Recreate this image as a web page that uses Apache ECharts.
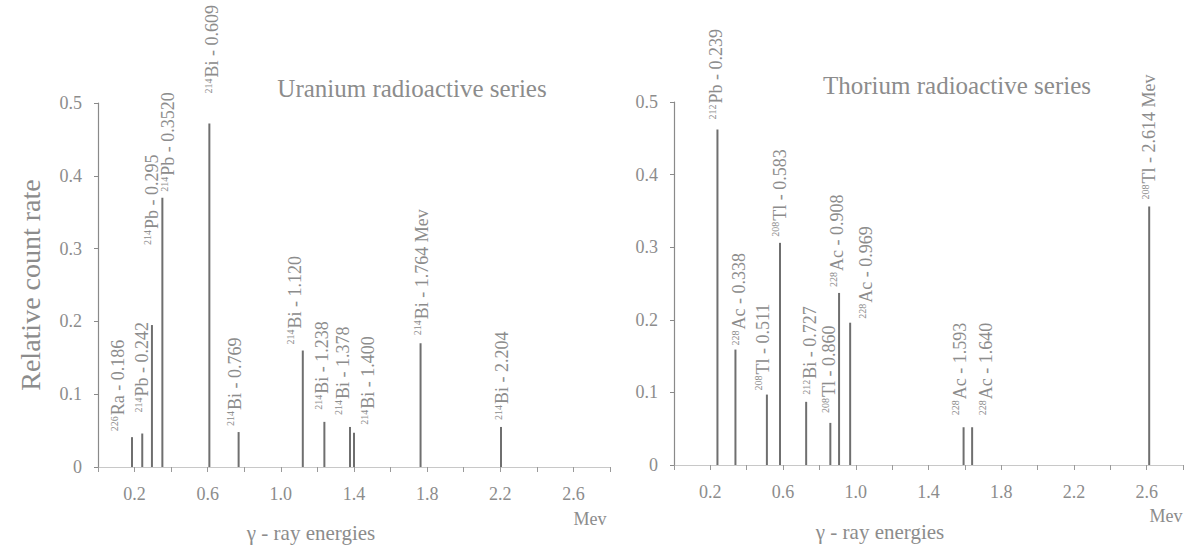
<!DOCTYPE html>
<html>
<head>
<meta charset="utf-8">
<script src="https://cdn.jsdelivr.net/npm/echarts@6/dist/echarts.min.js"></script>
<style>
html,body{margin:0;padding:0;background:#fff;}
#c{width:1186px;height:548px;}
</style>
</head>
<body>
<div id="c"></div>
<script>
// ---- data ----
const uMass   = ['226','214','214','214','214','214','214','214','214','214','214','214'];
const uElem   = ['Ra','Pb','Pb','Pb','Bi','Bi','Bi','Bi','Bi','Bi','Bi','Bi'];
const uEnergy = ['0.186','0.242','0.295','0.3520','0.609','0.769','1.120','1.238','1.378','1.400','1.764','2.204'];
const uUnit   = ['','','','','','','','','','','Mev',''];
const uCount  = [0.041,0.046,0.195,0.370,0.472,0.048,0.160,0.062,0.055,0.047,0.170,0.055];

const tMass   = ['212','228','208','208','212','208','228','228','228','228','208'];
const tElem   = ['Pb','Ac','Tl','Tl','Bi','Tl','Ac','Ac','Ac','Ac','Tl'];
const tEnergy = ['0.239','0.338','0.511','0.583','0.727','0.860','0.908','0.969','1.593','1.640','2.614'];
const tUnit   = ['','','','','','','','','','','Mev'];
const tCount  = [0.462,0.159,0.097,0.306,0.087,0.058,0.237,0.196,0.052,0.052,0.356];

const yTicks = ['0','0.1','0.2','0.3','0.4','0.5'];
const xTickLabels = ['0.2','0.6','1.0','1.4','1.8','2.2','2.6'];

const titles = ['Uranium radioactive series','Thorium radioactive series'];
const yName = 'Relative count rate';
const xName = 'γ - ray energies';
const unitName = 'Mev';

// ---- styles (label placement tweaks, not data) ----
const uLift  = [6,21,80,6,30,6,6,12,12,8,8,7];
const uShift = [-14,0,0,6,3,-4,-8,-2,-7,14,1,1];
const tLift  = [10,4,4,6,7,10,6,4,12,12,7];
const tShift = [-1,4,-4,0,4,-1,-2,16,-4,14,0];

const FONT = '"Liberation Serif", "DejaVu Serif", serif';
const TXT = '#8c8c8c';
const BAR = '#6f6f6f';

function buildData(mass, elem, energy, unit, count, lift, shift) {
  return energy.map((e, i) => ({
    value: [parseFloat(e), count[i]],
    label: {
      distance: lift[i],
      // label is rotated 90deg, so the local y offset moves it sideways on screen
      offset: [0, shift[i]],
      formatter: '{s|' + mass[i] + '}{t|' + elem[i] + ' - ' + e + (unit[i] ? ' ' + unit[i] : '') + '}'
    }
  }));
}

const labelBase = {
  show: true,
  position: 'top',
  rotate: 90,
  align: 'left',
  verticalAlign: 'middle',
  color: TXT,
  fontFamily: FONT,
  rich: {
    s: {fontSize: 10, fontFamily: FONT, color: TXT, verticalAlign: 'top', padding: [0, 1, 0, 0]},
    t: {fontSize: 18, fontFamily: FONT, color: TXT}
  }
};

function xAxisCfg(idx) {
  return {
    type: 'value', gridIndex: idx, min: 0, max: 2.8, interval: 0.2,
    axisLine: {show: true, lineStyle: {color: '#c8c8c8', width: 1}},
    axisTick: {show: true, inside: false, length: 5, lineStyle: {color: '#9a9a9a'}},
    splitLine: {show: false},
    axisLabel: {
      margin: 18, color: TXT, fontFamily: FONT, fontSize: 18,
      formatter: v => { const s = v.toFixed(1); return xTickLabels.indexOf(s) >= 0 ? s : ''; }
    }
  };
}
function yAxisCfg(idx, withName) {
  const c = {
    type: 'value', gridIndex: idx, min: 0, max: 0.5, interval: 0.1,
    axisLine: {show: true, lineStyle: {color: '#8a8a8a', width: 1.2}},
    axisTick: {show: true, inside: false, length: 4, lineStyle: {color: '#8a8a8a'}},
    splitLine: {show: false},
    axisLabel: {
      margin: 16, color: TXT, fontFamily: FONT, fontSize: 18,
      formatter: v => yTicks[Math.round(v * 10)]
    }
  };
  if (withName) {
    c.name = yName;
    c.nameLocation = 'middle';
    c.nameGap = 54;
    c.nameTextStyle = {color: TXT, fontFamily: FONT, fontSize: 28};
  }
  return c;
}

const chart = echarts.init(document.getElementById('c'), null, {renderer: 'svg'});
chart.setOption({
  backgroundColor: '#ffffff',
  animation: false,
  grid: [
    {left: 98, width: 512, top: 103, bottom: 81},
    {left: 674, width: 512, top: 102, bottom: 83}
  ],
  xAxis: [xAxisCfg(0), xAxisCfg(1)],
  yAxis: [yAxisCfg(0, true), yAxisCfg(1, false)],
  series: [
    {
      type: 'bar', xAxisIndex: 0, yAxisIndex: 0, barWidth: 2,
      itemStyle: {color: BAR},
      label: labelBase,
      data: buildData(uMass, uElem, uEnergy, uUnit, uCount, uLift, uShift)
    },
    {
      type: 'bar', xAxisIndex: 1, yAxisIndex: 1, barWidth: 2,
      itemStyle: {color: BAR},
      label: labelBase,
      data: buildData(tMass, tElem, tEnergy, tUnit, tCount, tLift, tShift)
    }
  ],
  graphic: [
    {type: 'text', x: 412, y: 88, style: {text: titles[0], fill: TXT, font: '25px ' + FONT, align: 'center', verticalAlign: 'middle'}},
    {type: 'text', x: 957, y: 85, style: {text: titles[1], fill: TXT, font: '25px ' + FONT, align: 'center', verticalAlign: 'middle'}},
    {type: 'text', x: 311, y: 533, style: {text: xName, fill: TXT, font: '21px ' + FONT, align: 'center', verticalAlign: 'middle'}},
    {type: 'text', x: 880, y: 532, style: {text: xName, fill: TXT, font: '21px ' + FONT, align: 'center', verticalAlign: 'middle'}},
    {type: 'text', x: 590, y: 519, style: {text: unitName, fill: TXT, font: '18px ' + FONT, align: 'center', verticalAlign: 'middle'}},
    {type: 'text', x: 1166, y: 516, style: {text: unitName, fill: TXT, font: '18px ' + FONT, align: 'center', verticalAlign: 'middle'}}
  ]
});
</script>
</body>
</html>
